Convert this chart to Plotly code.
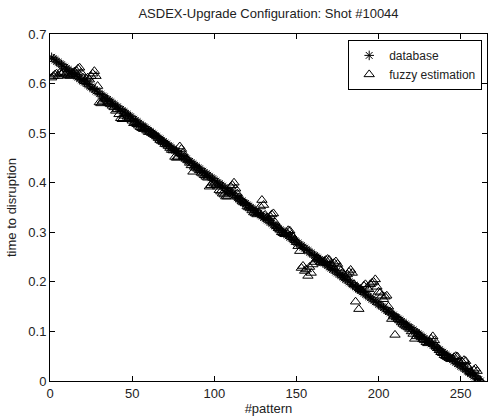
import plotly.graph_objects as go

# pattern index (x) and the two series
pattern = list(range(1, 263))

database = [
    0.653, 0.650, 0.648, 0.645, 0.643, 0.640, 0.638, 0.635, 0.633, 0.630,
    0.628, 0.625, 0.623, 0.620, 0.618, 0.615, 0.613, 0.610, 0.608, 0.605,
    0.603, 0.600, 0.598, 0.595, 0.593, 0.590, 0.588, 0.585, 0.583, 0.580,
    0.578, 0.575, 0.573, 0.570, 0.568, 0.565, 0.563, 0.560, 0.558, 0.555,
    0.553, 0.550, 0.548, 0.545, 0.543, 0.540, 0.538, 0.535, 0.533, 0.530,
    0.528, 0.525, 0.523, 0.520, 0.518, 0.515, 0.513, 0.510, 0.508, 0.505,
    0.503, 0.500, 0.498, 0.495, 0.493, 0.490, 0.488, 0.485, 0.483, 0.480,
    0.478, 0.475, 0.473, 0.470, 0.468, 0.465, 0.463, 0.460, 0.458, 0.455,
    0.453, 0.450, 0.448, 0.445, 0.443, 0.440, 0.438, 0.435, 0.433, 0.430,
    0.428, 0.425, 0.423, 0.420, 0.418, 0.415, 0.413, 0.410, 0.408, 0.405,
    0.403, 0.400, 0.398, 0.395, 0.393, 0.390, 0.388, 0.385, 0.383, 0.380,
    0.378, 0.375, 0.373, 0.370, 0.368, 0.365, 0.363, 0.360, 0.358, 0.355,
    0.353, 0.350, 0.348, 0.345, 0.343, 0.340, 0.338, 0.335, 0.333, 0.330,
    0.328, 0.325, 0.323, 0.320, 0.318, 0.315, 0.313, 0.310, 0.308, 0.305,
    0.303, 0.300, 0.298, 0.295, 0.293, 0.290, 0.288, 0.285, 0.283, 0.280,
    0.278, 0.275, 0.273, 0.270, 0.268, 0.265, 0.263, 0.260, 0.258, 0.255,
    0.253, 0.250, 0.248, 0.245, 0.243, 0.240, 0.238, 0.235, 0.233, 0.230,
    0.228, 0.225, 0.223, 0.220, 0.218, 0.215, 0.213, 0.210, 0.208, 0.205,
    0.203, 0.200, 0.198, 0.195, 0.193, 0.190, 0.188, 0.185, 0.183, 0.180,
    0.178, 0.175, 0.173, 0.170, 0.168, 0.165, 0.163, 0.160, 0.158, 0.155,
    0.153, 0.150, 0.148, 0.145, 0.143, 0.140, 0.138, 0.135, 0.133, 0.130,
    0.128, 0.125, 0.123, 0.120, 0.118, 0.115, 0.113, 0.110, 0.108, 0.105,
    0.103, 0.100, 0.098, 0.095, 0.093, 0.090, 0.088, 0.085, 0.083, 0.080,
    0.078, 0.075, 0.073, 0.070, 0.068, 0.065, 0.063, 0.060, 0.058, 0.055,
    0.053, 0.050, 0.048, 0.045, 0.043, 0.040, 0.038, 0.035, 0.033, 0.030,
    0.028, 0.025, 0.023, 0.020, 0.018, 0.015, 0.013, 0.010, 0.008, 0.005,
    0.003, 0.000,
]

fuzzy = [
    0.612, 0.615, 0.618, 0.620, 0.615, 0.622, 0.620, 0.622, 0.618, 0.620,
    0.617, 0.615, 0.618, 0.620, 0.624, 0.626, 0.630, 0.632, 0.622, 0.612,
    0.605, 0.610, 0.612, 0.608, 0.615, 0.620, 0.625, 0.615, 0.595, 0.562,
    0.560, 0.565, 0.570, 0.568, 0.562, 0.560, 0.558, 0.555, 0.552, 0.545,
    0.548, 0.538, 0.530, 0.528, 0.535, 0.540, 0.533, 0.530, 0.528, 0.525,
    0.520, 0.522, 0.518, 0.515, 0.512, 0.510, 0.508, 0.510, 0.505, 0.502,
    0.503, 0.500, 0.498, 0.496, 0.493, 0.490, 0.486, 0.484, 0.482, 0.478,
    0.477, 0.474, 0.470, 0.466, 0.465, 0.452, 0.450, 0.452, 0.473, 0.468,
    0.460, 0.452, 0.448, 0.445, 0.440, 0.435, 0.422, 0.432, 0.430, 0.428,
    0.425, 0.420, 0.418, 0.415, 0.412, 0.410, 0.392, 0.395, 0.400, 0.398,
    0.395, 0.392, 0.385, 0.382, 0.378, 0.376, 0.372, 0.372, 0.380, 0.392,
    0.395, 0.400, 0.388, 0.378, 0.370, 0.366, 0.362, 0.360, 0.358, 0.352,
    0.350, 0.348, 0.344, 0.340, 0.338, 0.336, 0.340, 0.352, 0.365, 0.355,
    0.335, 0.330, 0.328, 0.332, 0.336, 0.338, 0.320, 0.312, 0.308, 0.305,
    0.300, 0.298, 0.296, 0.300, 0.304, 0.303, 0.295, 0.290, 0.285, 0.280,
    0.272, 0.262, 0.228, 0.232, 0.222, 0.225, 0.212, 0.230, 0.218, 0.235,
    0.240, 0.245, 0.248, 0.245, 0.240, 0.238, 0.242, 0.244, 0.246, 0.244,
    0.236, 0.232, 0.238, 0.241, 0.236, 0.228, 0.222, 0.218, 0.214, 0.210,
    0.215, 0.220, 0.224, 0.218, 0.195, 0.160, 0.190, 0.145, 0.185, 0.182,
    0.192, 0.195, 0.188, 0.185, 0.195, 0.198, 0.200, 0.205, 0.190, 0.180,
    0.178, 0.172, 0.165, 0.170, 0.172, 0.150, 0.140, 0.125, 0.130, 0.093,
    0.128, 0.125, 0.122, 0.118, 0.115, 0.112, 0.110, 0.108, 0.105, 0.100,
    0.095, 0.085, 0.090, 0.095, 0.092, 0.088, 0.084, 0.082, 0.078, 0.076,
    0.080, 0.085, 0.090, 0.082, 0.070, 0.066, 0.062, 0.058, 0.056, 0.052,
    0.050, 0.048, 0.046, 0.044, 0.045, 0.048, 0.050, 0.049, 0.040, 0.035,
    0.038, 0.042, 0.040, 0.030, 0.025, 0.018, 0.015, 0.022, 0.025, 0.020,
    0.003, 0.000,
]

xticks = [0, 50, 100, 150, 200, 250]
yticks = [0, 0.1, 0.2, 0.3, 0.4, 0.5, 0.6, 0.7]
ylabels = ["0", "0.1", "0.2", "0.3", "0.4", "0.5", "0.6", "0.7"]

font = "Liberation Sans, Arial, sans-serif"

fig = go.Figure()
fig.add_trace(go.Scatter(
    x=pattern, y=database, mode="markers", name="database",
    marker=dict(symbol="asterisk-open", size=8, color="black",
                line=dict(color="black", width=1)),
))
fig.add_trace(go.Scatter(
    x=pattern, y=fuzzy, mode="markers", name="fuzzy estimation",
    marker=dict(symbol="triangle-up-open", size=9, color="black",
                line=dict(color="black", width=1)),
))

axis_style = dict(
    showgrid=False, zeroline=False, showline=True, linecolor="black",
    linewidth=1, mirror="allticks", ticks="inside", ticklen=5,
    tickcolor="black", tickfont=dict(family=font, size=13, color="#222"),
    automargin=False,
)

fig.update_xaxes(range=[0, 266], tickvals=xticks, ticktext=[str(v) for v in xticks],
                 title=dict(text="#pattern", font=dict(family=font, size=13, color="#222"),
                            standoff=2),
                 **axis_style)
fig.update_yaxes(range=[0, 0.7], tickvals=yticks, ticktext=ylabels,
                 title=dict(text="time to disruption", font=dict(family=font, size=13, color="#222"),
                            standoff=8),
                 **axis_style)

fig.update_layout(
    width=489, height=419,
    margin=dict(l=50, r=2, t=34, b=38),
    paper_bgcolor="white", plot_bgcolor="white",
    title=dict(text="ASDEX-Upgrade Configuration: Shot #10044", x=0.5, xref="paper",
               xanchor="center", y=0.969, yref="container", yanchor="middle",
               font=dict(family=font, size=13, color="#222")),
    legend=dict(x=0.989, y=0.983, xanchor="right", yanchor="top",
                bgcolor="white", bordercolor="black", borderwidth=1,
                font=dict(family=font, size=12, color="#222"),
                tracegroupgap=0),
    showlegend=True,
)

# page has a default 8px body margin; drop it so the figure sits at 0,0
fig.write_html("out.html", config={"displayModeBar": False},
               post_script="document.body.style.margin='0';")
